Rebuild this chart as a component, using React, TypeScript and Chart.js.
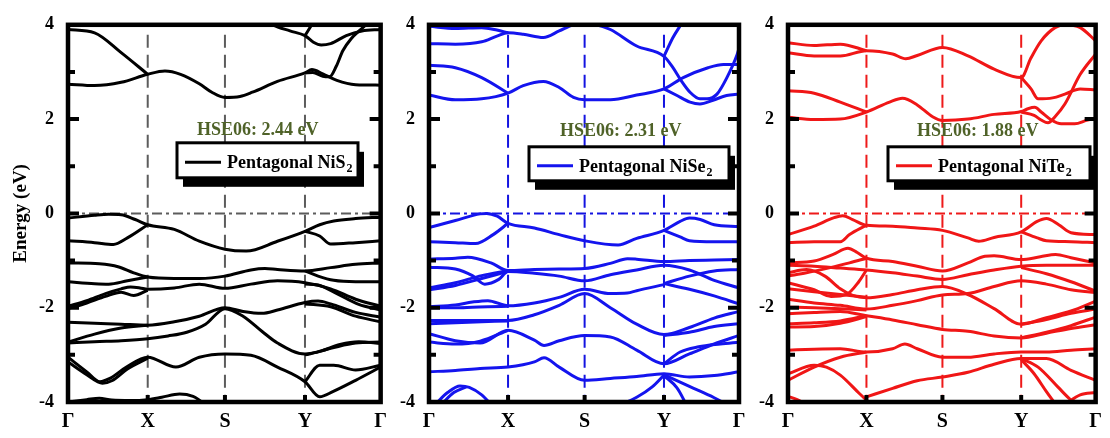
import React, { useEffect, useRef } from "react";
import { Chart, registerables } from "chart.js";
Chart.register(...registerables);

const SERIF = '"Liberation Serif", "Times New Roman", Times, serif';

type Pt = [number, number];

// high-symmetry path (fractional k distance) and labels
const kPath = [0, 0.255, 0.502, 0.758, 1];
const kLabels = ["Γ", "X", "S", "Y", "Γ"];
const energyTicks = [-4, -2, 0, 2, 4];
const materials = ["NiS", "NiSe", "NiTe"];
const gapValues = [2.44, 2.31, 1.88];

// ---------- Pentagonal NiS2 ----------
const nis2Conduction: Pt[][] = [
  [[0, 2.74], [0.085, 2.71], [0.17, 2.78], [0.255, 2.95], [0.31, 3.02], [0.36, 2.95], [0.42, 2.75], [0.46, 2.57], [0.502, 2.46], [0.55, 2.48], [0.59, 2.57], [0.67, 2.8], [0.758, 2.98], [0.78, 3.05], [0.815, 2.96], [0.86, 2.82], [0.92, 2.73], [1, 2.72]],
  [[0, 3.9], [0.085, 3.83], [0.17, 3.41], [0.255, 2.95]],
  [[0.758, 2.98], [0.783, 2.99], [0.815, 2.91], [0.837, 2.9], [0.858, 3.12], [0.879, 3.45], [0.905, 3.7], [0.933, 3.88], [0.965, 4.08], [1, 4.35]],
  [[0.62, 4.15], [0.655, 4.0], [0.71, 3.87], [0.758, 3.77], [0.785, 3.63], [0.81, 3.57], [0.84, 3.6], [0.89, 3.77], [0.94, 3.87], [1, 3.9]],
  [[0.758, 3.77], [0.783, 4.04], [0.8, 4.25]],
];
const nis2Valence: Pt[][] = [
  [[0, -0.1], [0.085, -0.04], [0.13, -0.02], [0.17, -0.03], [0.215, -0.13], [0.255, -0.24], [0.34, -0.34], [0.42, -0.59], [0.502, -0.76], [0.57, -0.8], [0.67, -0.59], [0.758, -0.38], [0.805, -0.24], [0.85, -0.16], [0.92, -0.11], [1, -0.08]],
  [[0, -0.58], [0.085, -0.62], [0.145, -0.66], [0.19, -0.52], [0.255, -0.24]],
  [[0.758, -0.38], [0.805, -0.48], [0.84, -0.65], [0.92, -0.62], [1, -0.58]],
  [[0, -1.05], [0.1, -1.07], [0.16, -1.13], [0.21, -1.26], [0.255, -1.35], [0.34, -1.38], [0.42, -1.38], [0.502, -1.33], [0.585, -1.2], [0.63, -1.17], [0.67, -1.19], [0.758, -1.22], [0.84, -1.15], [0.92, -1.08], [1, -1.05]],
  [[0, -1.45], [0.085, -1.49], [0.13, -1.5], [0.19, -1.43], [0.255, -1.35]],
  [[0.758, -1.22], [0.8, -1.33], [0.85, -1.42], [0.92, -1.45], [1, -1.45]],
  [[0, -1.97], [0.06, -1.85], [0.12, -1.7], [0.17, -1.6], [0.2, -1.56], [0.23, -1.58], [0.255, -1.61], [0.34, -1.58], [0.42, -1.5], [0.502, -1.59], [0.585, -1.5], [0.67, -1.43], [0.758, -1.47], [0.84, -1.6], [0.92, -1.82], [1, -1.97]],
  [[0, -2.02], [0.06, -1.9], [0.12, -1.76], [0.17, -1.67], [0.21, -1.74], [0.255, -1.63]],
  [[0.758, -1.5], [0.8, -1.52], [0.86, -1.7], [0.93, -1.93], [1, -2.05]],
  [[0, -2.31], [0.085, -2.33], [0.17, -2.35], [0.255, -2.37], [0.34, -2.3], [0.42, -2.18], [0.502, -2.0], [0.56, -2.08], [0.62, -2.12], [0.67, -2.05], [0.758, -1.89], [0.8, -1.86], [0.84, -1.92], [0.92, -2.1], [1, -2.2]],
  [[0, -2.73], [0.085, -2.56], [0.17, -2.43], [0.255, -2.37]],
  [[0, -2.75], [0.085, -2.72], [0.17, -2.7], [0.255, -2.66], [0.32, -2.6], [0.38, -2.52], [0.44, -2.35], [0.502, -2.02], [0.56, -2.18], [0.62, -2.5], [0.67, -2.75], [0.758, -2.98], [0.84, -2.86], [0.92, -2.75], [1, -2.73]],
  [[0.758, -3.0], [0.81, -2.92], [0.87, -2.78], [0.93, -2.72], [1, -2.76]],
  [[0.758, -1.92], [0.84, -1.98], [0.92, -2.18], [1, -2.3]],
  [[0, -3.05], [0.06, -3.36], [0.102, -3.57], [0.134, -3.5], [0.187, -3.26], [0.255, -3.05], [0.345, -3.26], [0.42, -3.05], [0.502, -2.98], [0.585, -3.01], [0.67, -3.26], [0.758, -3.57], [0.805, -3.89], [0.847, -3.78], [0.92, -3.54], [1, -3.26]],
  [[0, -3.15], [0.06, -3.42], [0.11, -3.6], [0.14, -3.55], [0.19, -3.3], [0.255, -3.07]],
  [[0.758, -3.57], [0.805, -3.22], [0.85, -3.22], [0.92, -3.32], [1, -3.22]],
  [[0, -4.0], [0.06, -3.95], [0.1, -3.92], [0.14, -3.96], [0.2, -3.97], [0.255, -3.95], [0.3, -3.9], [0.357, -3.83], [0.4, -3.88], [0.43, -4.0], [0.46, -4.1]],
  [[0, -4.06], [0.07, -3.98], [0.12, -4.0], [0.2, -4.01], [0.3, -4.05]],
];

// ---------- Pentagonal NiSe2 ----------
const nise2Conduction: Pt[][] = [
  [[0, 2.51], [0.085, 2.41], [0.17, 2.43], [0.255, 2.55], [0.304, 2.71], [0.369, 2.8], [0.42, 2.67], [0.466, 2.46], [0.502, 2.41], [0.585, 2.41], [0.67, 2.51], [0.758, 2.64], [0.82, 2.88], [0.9, 3.09], [0.95, 3.16], [1, 3.16]],
  [[0, 3.14], [0.085, 3.09], [0.17, 2.88], [0.255, 2.55]],
  [[0.758, 2.64], [0.8, 2.5], [0.842, 2.36], [0.874, 2.32], [0.916, 2.4], [0.96, 2.5], [1, 2.53]],
  [[0, 3.6], [0.085, 3.59], [0.17, 3.64], [0.219, 3.76], [0.255, 3.83], [0.304, 3.8], [0.369, 3.73], [0.42, 3.87], [0.466, 4.0], [0.502, 4.03], [0.54, 4.0], [0.585, 3.9], [0.67, 3.55], [0.758, 3.33], [0.787, 3.09], [0.81, 2.85], [0.842, 2.57], [0.874, 2.43], [0.897, 2.43], [0.929, 2.53], [0.961, 2.88], [0.994, 3.37], [1, 3.5]],
  [[0, 3.97], [0.085, 3.92], [0.17, 3.94], [0.219, 3.89], [0.255, 3.83]],
  [[0.758, 3.33], [0.787, 3.73], [0.816, 4.04], [0.83, 4.2]],
];
const nise2Valence: Pt[][] = [
  [[0, -0.3], [0.085, -0.15], [0.165, -0.01], [0.186, 0.0], [0.22, -0.06], [0.255, -0.21], [0.34, -0.31], [0.42, -0.45], [0.502, -0.58], [0.61, -0.67], [0.67, -0.53], [0.758, -0.36], [0.81, -0.17], [0.84, -0.1], [0.875, -0.13], [0.92, -0.24], [1, -0.28]],
  [[0, -0.6], [0.085, -0.62], [0.15, -0.64], [0.207, -0.45], [0.255, -0.21]],
  [[0.758, -0.36], [0.81, -0.5], [0.84, -0.58], [0.92, -0.6], [1, -0.6]],
  [[0, -0.97], [0.085, -0.95], [0.125, -0.93], [0.2, -1.05], [0.255, -1.21], [0.34, -1.19], [0.42, -1.18], [0.502, -1.17], [0.585, -1.06], [0.64, -0.96], [0.67, -0.97], [0.758, -1.02], [0.84, -1.0], [0.92, -0.99], [1, -0.98]],
  [[0, -1.14], [0.085, -1.18], [0.14, -1.32], [0.18, -1.5], [0.225, -1.4], [0.255, -1.23], [0.34, -1.27], [0.42, -1.33], [0.502, -1.43], [0.585, -1.3], [0.67, -1.2], [0.758, -1.1], [0.84, -1.2], [0.92, -1.42], [1, -1.58]],
  [[0, -1.58], [0.085, -1.47], [0.17, -1.32], [0.255, -1.21]],
  [[0, -1.62], [0.085, -1.53], [0.17, -1.38], [0.255, -1.23]],
  [[0.758, -1.49], [0.84, -1.33], [0.92, -1.22], [1, -1.19]],
  [[0.758, -1.49], [0.84, -1.61], [0.92, -1.75], [1, -1.92]],
  [[0, -1.98], [0.085, -1.94], [0.14, -1.88], [0.19, -1.85], [0.255, -1.96], [0.34, -1.9], [0.42, -1.78], [0.502, -1.61], [0.585, -1.7], [0.64, -1.69], [0.67, -1.64], [0.758, -1.51]],
  [[0, -2.0], [0.085, -2.0], [0.14, -1.99], [0.19, -1.98], [0.255, -1.97]],
  [[0, -2.27], [0.085, -2.27], [0.17, -2.27], [0.255, -2.27], [0.34, -2.15], [0.42, -1.95], [0.502, -1.7], [0.585, -2.0], [0.67, -2.35], [0.758, -2.57], [0.84, -2.42], [0.92, -2.22], [1, -2.08]],
  [[0, -2.34], [0.085, -2.32], [0.17, -2.3], [0.255, -2.28]],
  [[0.758, -2.59], [0.84, -2.52], [0.92, -2.4], [1, -2.34]],
  [[0, -2.55], [0.085, -2.7], [0.165, -2.75], [0.255, -2.48], [0.34, -2.69], [0.371, -2.8], [0.42, -2.7], [0.502, -2.59], [0.585, -2.62], [0.67, -2.9], [0.758, -3.19], [0.84, -2.98], [0.92, -2.77], [1, -2.59]],
  [[0, -2.73], [0.085, -2.77], [0.165, -2.71], [0.255, -2.48]],
  [[0.758, -3.19], [0.81, -2.94], [0.87, -2.83], [0.94, -2.77], [1, -2.73]],
  [[0, -3.36], [0.085, -3.33], [0.165, -3.29], [0.255, -3.26], [0.34, -3.15], [0.371, -3.06], [0.42, -3.26], [0.502, -3.54], [0.585, -3.5], [0.67, -3.46], [0.758, -3.4], [0.84, -3.47], [0.92, -3.44], [1, -3.36]],
  [[0.758, -3.42], [0.84, -3.67], [0.92, -3.91], [0.96, -4.05]],
  [[0.758, -3.44], [0.8, -3.7], [0.83, -4.05]],
  [[0.02, -4.05], [0.06, -3.8], [0.1, -3.66], [0.13, -3.69], [0.17, -3.85], [0.2, -4.05]],
  [[0.04, -4.05], [0.08, -3.8], [0.12, -3.68]],
  [[0.62, -4.05], [0.67, -3.9], [0.72, -3.68], [0.758, -3.43]],
];

// ---------- Pentagonal NiTe2 ----------
const nite2Conduction: Pt[][] = [
  [[0, 2.04], [0.085, 1.99], [0.17, 2.0], [0.255, 2.15], [0.33, 2.36], [0.372, 2.44], [0.42, 2.3], [0.47, 2.05], [0.502, 1.97], [0.585, 2.0], [0.67, 2.1], [0.758, 2.16], [0.78, 2.22], [0.802, 2.25], [0.823, 2.15], [0.856, 1.98], [0.888, 1.9], [0.932, 1.9], [0.974, 1.98], [1, 2.0]],
  [[0, 2.6], [0.085, 2.55], [0.17, 2.36], [0.255, 2.15]],
  [[0.758, 2.15], [0.8, 2.08], [0.823, 1.98], [0.845, 1.92], [0.868, 2.05], [0.9, 2.32], [0.95, 2.95], [1, 3.38]],
  [[0, 3.41], [0.085, 3.34], [0.17, 3.34], [0.255, 3.45], [0.34, 3.38], [0.383, 3.28], [0.42, 3.35], [0.502, 3.52], [0.585, 3.34], [0.67, 3.06], [0.758, 2.88], [0.79, 3.3], [0.823, 3.66], [0.868, 3.94], [0.9, 4.0], [0.95, 3.94], [1, 3.66]],
  [[0, 3.62], [0.085, 3.56], [0.17, 3.59], [0.255, 3.45]],
  [[0.758, 2.88], [0.79, 2.64], [0.813, 2.43], [0.86, 2.45], [0.9, 2.53], [0.95, 2.64], [1, 2.62]],
];
const nite2Valence: Pt[][] = [
  [[0, -0.45], [0.085, -0.27], [0.15, -0.09], [0.178, -0.05], [0.21, -0.13], [0.255, -0.25], [0.34, -0.27], [0.42, -0.31], [0.502, -0.36], [0.585, -0.52], [0.62, -0.59], [0.67, -0.51], [0.758, -0.39], [0.81, -0.17], [0.84, -0.11], [0.88, -0.24], [0.92, -0.41], [1, -0.45]],
  [[0, -0.62], [0.085, -0.6], [0.17, -0.6], [0.2, -0.45], [0.255, -0.25]],
  [[0.758, -0.39], [0.81, -0.52], [0.84, -0.58], [0.92, -0.6], [1, -0.62]],
  [[0, -1.05], [0.085, -1.01], [0.147, -0.87], [0.195, -0.74], [0.225, -0.83], [0.255, -0.95], [0.34, -1.02], [0.42, -1.12], [0.502, -1.22], [0.585, -1.05], [0.64, -0.91], [0.67, -0.9], [0.758, -0.98], [0.82, -0.92], [0.87, -0.87], [0.92, -0.94], [1, -1.05]],
  [[0, -1.26], [0.06, -1.19], [0.12, -1.33], [0.17, -1.6], [0.21, -1.74], [0.255, -1.79], [0.34, -1.72], [0.42, -1.62], [0.502, -1.55], [0.585, -1.72], [0.67, -2.02], [0.758, -2.35], [0.84, -2.21], [0.92, -2.07], [1, -1.86]],
  [[0, -1.1], [0.085, -1.12], [0.17, -1.16], [0.255, -1.2], [0.34, -1.26], [0.42, -1.33], [0.502, -1.4], [0.585, -1.3], [0.67, -1.2], [0.758, -1.12], [0.84, -1.1], [0.92, -1.1], [1, -1.1]],
  [[0, -1.33], [0.06, -1.26], [0.13, -1.16], [0.2, -1.05], [0.255, -0.95]],
  [[0, -1.47], [0.085, -1.62], [0.14, -1.76], [0.19, -1.72], [0.23, -1.45], [0.255, -1.2]],
  [[0, -1.6], [0.085, -1.66], [0.17, -1.72], [0.255, -1.78]],
  [[0, -1.82], [0.085, -1.9], [0.17, -1.95], [0.255, -2.03], [0.34, -1.95], [0.42, -1.85], [0.502, -1.73], [0.585, -1.7], [0.67, -1.55], [0.758, -1.43], [0.84, -1.5], [0.92, -1.62], [1, -1.68]],
  [[0, -1.99], [0.085, -2.0], [0.17, -2.02], [0.255, -2.05]],
  [[0.758, -1.15], [0.84, -1.28], [0.92, -1.45], [1, -1.65]],
  [[0, -2.13], [0.085, -2.1], [0.17, -2.08], [0.255, -2.17], [0.34, -2.26], [0.42, -2.36], [0.502, -2.46], [0.585, -2.5], [0.67, -2.6], [0.758, -2.64], [0.84, -2.54], [0.92, -2.44], [1, -2.36]],
  [[0, -2.34], [0.085, -2.32], [0.17, -2.28], [0.255, -2.17]],
  [[0.758, -2.35], [0.84, -2.25], [0.92, -2.12], [1, -2.03]],
  [[0, -2.41], [0.085, -2.4], [0.17, -2.33], [0.255, -2.19]],
  [[0.758, -2.64], [0.84, -2.52], [0.92, -2.38], [1, -2.2]],
  [[0, -2.9], [0.085, -2.88], [0.17, -2.87], [0.255, -2.94], [0.34, -2.87], [0.38, -2.77], [0.42, -2.87], [0.502, -3.05], [0.585, -3.05], [0.67, -2.98], [0.758, -2.94], [0.84, -2.94], [0.92, -2.9], [1, -2.87]],
  [[0, -3.54], [0.085, -3.26], [0.17, -3.05], [0.255, -2.94]],
  [[0, -3.4], [0.085, -3.22], [0.125, -3.26], [0.17, -3.43], [0.232, -3.82], [0.255, -3.96], [0.27, -4.05]],
  [[0.255, -3.89], [0.34, -3.71], [0.42, -3.55], [0.502, -3.47], [0.585, -3.37], [0.67, -3.2], [0.758, -3.08], [0.84, -3.08], [0.92, -3.33], [1, -3.54]],
  [[0.758, -3.1], [0.8, -3.4], [0.84, -3.78], [0.87, -4.05]],
  [[0.758, -3.08], [0.813, -3.26], [0.877, -3.68], [0.92, -3.96], [0.94, -4.05]],
  [[0.9, -4.05], [0.95, -3.85], [1, -3.8]],
  [[0, -3.88], [0.03, -3.95], [0.06, -4.05]],
];

const bandSets: Pt[][][] = [
  [...nis2Conduction, ...nis2Valence],
  [...nise2Conduction, ...nise2Valence],
  [...nite2Conduction, ...nite2Valence],
];

// layout / style per panel
const PANELS = [
  { color: "#000000", guide: "#5c5c5c", left: 0, width: 395, yAxisWidth: 68, padRight: 14, title: true, legend: { dx: 109, dy: 118, w: 181, h: 35 }, hse: { dx: 129, dy: 106 } },
  { color: "#1414ee", guide: "#1414e0", left: 395, width: 360, yAxisWidth: 34, padRight: 16, title: false, legend: { dx: 100, dy: 122, w: 200, h: 34 }, hse: { dx: 131, dy: 107 } },
  { color: "#f01616", guide: "#ee1a1a", left: 755, width: 355, yAxisWidth: 33, padRight: 12, title: false, legend: { dx: 100, dy: 122, w: 202, h: 34 }, hse: { dx: 129, dy: 107 } },
];

function makeDecor(idx: number) {
  const cfg = PANELS[idx];
  return {
    id: "decor" + idx,
    beforeDatasetsDraw(chart: any) {
      const { ctx, chartArea, scales } = chart;
      const { left, right, top, bottom } = chartArea;
      ctx.save();
      ctx.strokeStyle = cfg.guide;
      ctx.lineWidth = 2;
      ctx.setLineDash([13, 7]);
      for (const k of kPath.slice(1, 4)) {
        const px = scales.x.getPixelForValue(k);
        ctx.beginPath();
        ctx.moveTo(px, top + 10);
        ctx.lineTo(px, bottom);
        ctx.stroke();
      }
      ctx.setLineDash([10, 4, 3, 4]);
      const py = scales.y.getPixelForValue(0);
      ctx.beginPath();
      ctx.moveTo(left, py);
      ctx.lineTo(right, py);
      ctx.stroke();
      ctx.restore();
    },
    afterDatasetsDraw(chart: any) {
      const { ctx, chartArea, scales } = chart;
      const { left, right, top, bottom } = chartArea;
      ctx.save();
      ctx.setLineDash([]);
      ctx.strokeStyle = "#000";
      ctx.lineWidth = 4;
      for (let e = -3; e <= 3; e++) {
        const py = scales.y.getPixelForValue(e);
        const len = e % 2 === 0 ? 11 : 7;
        ctx.beginPath();
        ctx.moveTo(left, py);
        ctx.lineTo(left + len, py);
        ctx.moveTo(right, py);
        ctx.lineTo(right - len, py);
        ctx.stroke();
      }
      for (const k of kPath.slice(1, 4)) {
        const px = scales.x.getPixelForValue(k);
        ctx.beginPath();
        ctx.moveTo(px, bottom);
        ctx.lineTo(px, bottom - 7);
        ctx.stroke();
      }
      ctx.lineWidth = 4.5;
      ctx.strokeRect(left, top, right - left, bottom - top);
      ctx.restore();
    },
    afterDraw(chart: any) {
      const { ctx, chartArea } = chart;
      const { left, top } = chartArea;
      ctx.save();
      // gap annotation
      ctx.font = `bold 18px ${SERIF}`;
      ctx.fillStyle = "#4F6228";
      ctx.textAlign = "left";
      ctx.textBaseline = "middle";
      ctx.fillText(`HSE06: ${gapValues[idx].toFixed(2)} eV`, left + cfg.hse.dx, top + cfg.hse.dy);
      // legend box with shadow
      const { dx, dy, w, h } = cfg.legend;
      const bx = left + dx;
      const by = top + dy;
      ctx.fillStyle = "#000";
      ctx.fillRect(bx + 6, by + 9, w, h);
      ctx.fillStyle = "#fff";
      ctx.fillRect(bx, by, w, h);
      ctx.strokeStyle = "#000";
      ctx.lineWidth = 3;
      ctx.strokeRect(bx, by, w, h);
      const cy = by + h / 2 + 2;
      ctx.strokeStyle = cfg.color;
      ctx.lineWidth = 3;
      ctx.beginPath();
      ctx.moveTo(bx + 8, cy);
      ctx.lineTo(bx + 44, cy);
      ctx.stroke();
      ctx.fillStyle = "#000";
      ctx.textBaseline = "alphabetic";
      ctx.font = `bold 18px ${SERIF}`;
      const label = `Pentagonal ${materials[idx]}`;
      ctx.fillText(label, bx + 50, cy + 6);
      const tw = ctx.measureText(label).width;
      ctx.font = `bold 12px ${SERIF}`;
      ctx.fillText("2", bx + 50 + tw + 1, cy + 10);
      ctx.restore();
    },
  };
}

function Panel({ idx }: { idx: number }) {
  const ref = useRef<HTMLCanvasElement | null>(null);
  const cfg = PANELS[idx];
  useEffect(() => {
    if (!ref.current) return;
    const datasets = bandSets[idx].map((band) => ({
      data: band.map(([k, e]) => ({ x: k, y: e })),
      borderColor: cfg.color,
      borderWidth: 3,
      pointRadius: 0,
      fill: false,
      cubicInterpolationMode: "monotone" as const,
    }));
    const chart = new Chart(ref.current, {
      type: "line",
      data: { datasets },
      options: {
        animation: false,
        responsive: false,
        maintainAspectRatio: false,
        layout: { padding: { top: 21, right: cfg.padRight, left: 0, bottom: 0 } },
        plugins: { legend: { display: false }, tooltip: { enabled: false } },
        scales: {
          x: {
            type: "linear",
            min: 0,
            max: 1,
            grid: { display: false, drawTicks: false },
            border: { display: false },
            afterBuildTicks: (s: any) => {
              s.ticks = kPath.map((v) => ({ value: v }));
            },
            afterFit: (s: any) => {
              s.height = 36;
            },
            ticks: {
              autoSkip: false,
              maxRotation: 0,
              padding: 8,
              color: "#000",
              font: { family: SERIF, size: 20, weight: "bold" },
              callback: (_v: any, i: number) => kLabels[i],
            },
          },
          y: {
            type: "linear",
            min: -4,
            max: 4,
            grid: { display: false, drawTicks: false },
            border: { display: false },
            afterBuildTicks: (s: any) => {
              s.ticks = energyTicks.map((v) => ({ value: v }));
            },
            afterFit: (s: any) => {
              s.width = cfg.yAxisWidth;
            },
            ticks: {
              padding: 14,
              color: "#000",
              font: { family: SERIF, size: 18, weight: "bold" },
              callback: (v: any) => String(v),
            },
            title: {
              display: cfg.title,
              text: "Energy (eV)",
              color: "#000",
              font: { family: SERIF, size: 19, weight: "bold" },
              padding: { top: 10, bottom: 0 },
            },
          },
        },
      } as any,
      plugins: [makeDecor(idx)],
    });
    return () => chart.destroy();
  }, []);
  return (
    <canvas
      ref={ref}
      width={cfg.width}
      height={438}
      style={{ position: "absolute", left: cfg.left, top: 0, width: cfg.width, height: 438 }}
    />
  );
}

export default function App() {
  return (
    <div style={{ position: "absolute", left: 0, top: 0, width: 1110, height: 438, background: "#fff", overflow: "hidden" }}>
      {PANELS.map((_, i) => (
        <Panel key={i} idx={i} />
      ))}
    </div>
  );
}
